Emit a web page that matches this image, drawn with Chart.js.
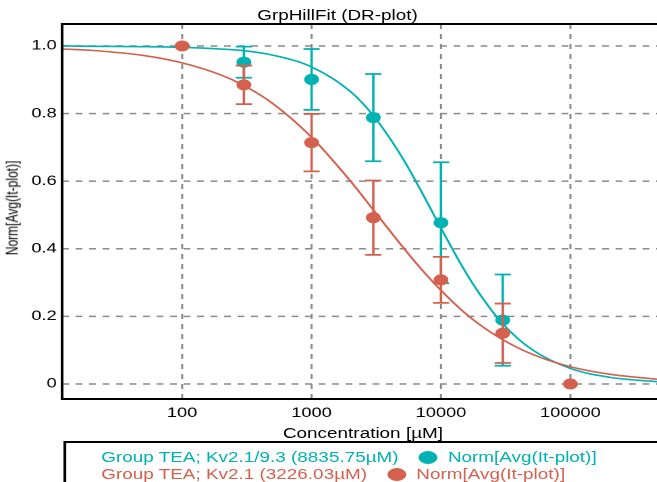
<!DOCTYPE html>
<html><head><meta charset="utf-8">
<script src="https://cdn.jsdelivr.net/npm/chart.js@4.4.1/dist/chart.umd.min.js"></script>
<style>
html,body{margin:0;padding:0;background:#fff;}
body{width:657px;height:482px;overflow:hidden;position:relative}
#stage{position:absolute;left:0;top:0;width:487px;height:482px;transform:scaleX(1.35);transform-origin:0 0;}
#c{position:absolute;left:0;top:0}
.txt{position:absolute;font-family:"Liberation Sans",Arial,sans-serif;white-space:nowrap;line-height:1;color:#000}
#legend{position:absolute;left:46.5px;top:441px;width:600px;height:100px;border:2px solid #000;box-sizing:border-box;background:#fff}
.row{position:absolute;left:26.5px;display:flex;align-items:center;font-family:"Liberation Sans",Arial,sans-serif;font-size:14px;white-space:nowrap;height:17px;line-height:17px}
.dot{display:inline-block;width:14px;height:13px;border-radius:50%;margin:0 7.5px 0 15px}
</style></head><body>
<div id="stage">
<canvas id="c" width="487" height="482"></canvas>
<div class="txt" id="title" style="font-size:14px;left:250px;top:8px;transform:translateX(-50%)"></div>
<div class="txt" id="xtitle" style="font-size:14px;left:209.6px;top:426px"></div>
<div class="txt" id="ytitle" style="font-size:12px;left:9.3px;top:208px;transform:translate(-50%,-50%) rotate(-90deg)"></div>
<div id="legend"></div>
</div>
<script>
// ---- data ----
const chartTitle = 'GrpHillFit (DR-plot)';
const xTitle = 'Concentration [µM]';
const yTitle = 'Norm[Avg(It-plot)]';
const seriesNames = ['Group TEA; Kv2.1/9.3 (8835.75µM)', 'Group TEA; Kv2.1 (3226.03µM)'];
const pointLabel = 'Norm[Avg(It-plot)]';

const tealX   = [300, 1000, 3000, 10000, 30000];
const tealY   = [0.952, 0.901, 0.788, 0.477, 0.189];
const tealErr = [0.046, 0.090, 0.129, 0.179, 0.135];

const redX   = [100, 300, 1000, 3000, 10000, 30000, 100000];
const redY   = [1.000, 0.885, 0.714, 0.492, 0.308, 0.150, 0.000];
const redErr = [0, 0.057, 0.085, 0.110, 0.068, 0.088, 0];

const fitX    = [12, 20, 50, 100, 200, 300, 500, 1000, 2000, 3000, 5000, 7000, 10000, 15000, 20000, 30000, 50000, 100000, 200000, 500000];
const tealFit = [1.000, 0.999, 0.998, 0.996, 0.991, 0.986, 0.973, 0.938, 0.865, 0.794, 0.671, 0.572, 0.461, 0.340, 0.265, 0.178, 0.103, 0.046, 0.020, 0.006];
const redFit  = [0.991, 0.987, 0.972, 0.950, 0.914, 0.883, 0.830, 0.730, 0.600, 0.515, 0.408, 0.341, 0.277, 0.213, 0.175, 0.131, 0.089, 0.051, 0.029, 0.013];

const xTicks = [100, 1000, 10000, 100000];
const yTicks = [0, 0.2, 0.4, 0.6, 0.8, 1.0];

const TEAL = '#00b2b2';
const RED  = '#d4604e';

// ---- texts ----
document.getElementById('title').textContent = chartTitle;
document.getElementById('xtitle').textContent = xTitle;
document.getElementById('ytitle').textContent = yTitle;
const leg = document.getElementById('legend');
[[seriesNames[0], TEAL], [seriesNames[1], RED]].forEach(([name, col], i) => {
  const r = document.createElement('div');
  r.className = 'row';
  r.style.top = (5.5 + i * 17) + 'px';
  r.style.color = col;
  const a = document.createElement('span'); a.textContent = name;
  const d = document.createElement('span'); d.className = 'dot'; d.style.background = col;
  const b = document.createElement('span'); b.textContent = pointLabel;
  r.appendChild(a); r.appendChild(d); r.appendChild(b);
  leg.appendChild(r);
});

// ---- plugin: grid, error bars, frame ----
const deco = {
  id: 'deco',
  beforeDatasetsDraw(c) {
    const ctx = c.ctx, a = c.chartArea, xs = c.scales.x, ys = c.scales.y;
    ctx.save();
    ctx.strokeStyle = '#8a8a8a';
    ctx.lineWidth = 1.5;
    ctx.setLineDash([5, 5]);
    yTicks.forEach(v => {
      const py = ys.getPixelForValue(v);
      ctx.beginPath(); ctx.moveTo(a.left, py); ctx.lineTo(a.right, py); ctx.stroke();
    });
    xTicks.forEach(v => {
      const px = xs.getPixelForValue(v);
      ctx.beginPath(); ctx.moveTo(px, a.top); ctx.lineTo(px, a.bottom); ctx.stroke();
    });
    ctx.restore();
  },
  beforeDatasetDraw(c, args) {
    const ds = c.data.datasets[args.index];
    if (!ds.err) return;
    const ctx = c.ctx, xs = c.scales.x, ys = c.scales.y;
    ctx.save();
    ctx.strokeStyle = ds.backgroundColor;
    ctx.lineWidth = 1.8;
    ds.data.forEach((p, i) => {
      const e = ds.err[i];
      if (!e) return;
      const px = xs.getPixelForValue(p.x);
      const t = ys.getPixelForValue(p.y + e), b = ys.getPixelForValue(p.y - e);
      ctx.beginPath();
      ctx.moveTo(px, t); ctx.lineTo(px, b);
      ctx.moveTo(px - 6, t); ctx.lineTo(px + 6, t);
      ctx.moveTo(px - 6, b); ctx.lineTo(px + 6, b);
      ctx.stroke();
    });
    ctx.restore();
  },
  afterDraw(c) {
    const ctx = c.ctx, a = c.chartArea;
    ctx.save();
    ctx.strokeStyle = '#000';
    ctx.lineWidth = 2;
    ctx.beginPath();
    ctx.moveTo(a.right + 5, a.top); ctx.lineTo(a.left, a.top); ctx.lineTo(a.left, a.bottom); ctx.lineTo(a.right + 5, a.bottom);
    ctx.stroke();
    ctx.restore();
  }
};

const pts = (xa, ya) => xa.map((x, i) => ({ x, y: ya[i] }));

new Chart(document.getElementById('c'), {
  type: 'scatter',
  data: {
    datasets: [
      { data: pts(redX, redY), err: redErr, backgroundColor: RED, borderColor: RED, pointRadius: 5.5, pointBorderWidth: 0, showLine: false },
      { data: pts(fitX, redFit), showLine: true, borderColor: RED, backgroundColor: RED, borderWidth: 1.6, pointRadius: 0, cubicInterpolationMode: 'monotone' },
      { data: pts(tealX, tealY), err: tealErr, backgroundColor: TEAL, borderColor: TEAL, pointRadius: 5.5, pointBorderWidth: 0, showLine: false },
      { data: pts(fitX, tealFit), showLine: true, borderColor: TEAL, backgroundColor: TEAL, borderWidth: 1.6, pointRadius: 0, cubicInterpolationMode: 'monotone' }
    ]
  },
  options: {
    responsive: false,
    animation: false,
    devicePixelRatio: 2,
    events: [],
    layout: { autoPadding: false, padding: { top: 24, left: 0, right: 0, bottom: 0 } },
    plugins: { legend: { display: false }, tooltip: { enabled: false }, title: { display: false } },
    scales: {
      x: {
        type: 'logarithmic', min: 11.81, max: 470700,
        afterBuildTicks(s) { s.ticks = xTicks.map(v => ({ value: v })); },
        afterFit(s) { s.height = 83; s.paddingLeft = 0; s.paddingRight = 0; },
        grid: { display: false, drawTicks: false }, border: { display: false },
        ticks: { font: { family: 'Liberation Sans', size: 13.5 }, color: '#000', padding: 6, maxRotation: 0, autoSkip: false, callback: v => String(v) }
      },
      y: {
        min: -0.0444, max: 1.065,
        afterBuildTicks(s) { s.ticks = yTicks.map(v => ({ value: v })); },
        afterFit(s) { s.width = 46; s.paddingTop = 0; s.paddingBottom = 0; },
        grid: { display: false, drawTicks: false }, border: { display: false },
        ticks: { font: { family: 'Liberation Sans', size: 13.5 }, color: '#000', padding: 4, autoSkip: false, callback: v => v === 0 ? '0' : v.toFixed(1) }
      }
    }
  },
  plugins: [deco]
});
</script>
</body></html>
